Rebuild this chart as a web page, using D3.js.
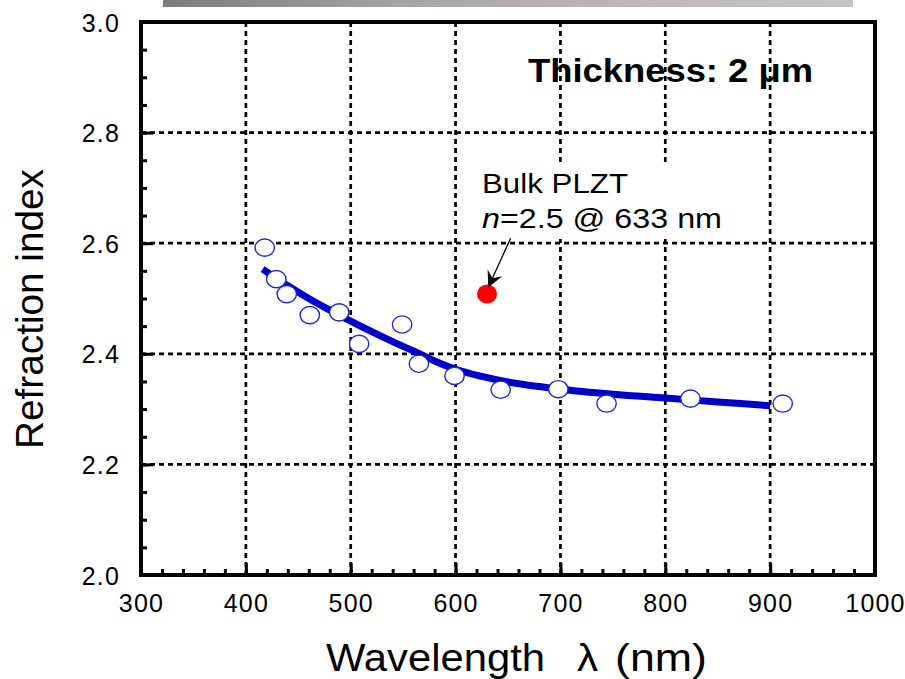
<!DOCTYPE html>
<html>
<head>
<meta charset="utf-8">
<script src="https://cdn.jsdelivr.net/npm/d3@7"></script>
<style>
  html, body { margin: 0; padding: 0; background: #fff; }
  svg { display: block; }
  text { font-family: "Liberation Sans", Arial, Helvetica, sans-serif; fill: #000; }
</style>
</head>
<body>
<svg id="chart" width="905" height="679"></svg>
<script>
// ---------- data ----------
const measWavelength = [418, 429, 439, 461, 489, 508, 549, 565, 599, 643, 698, 744, 824, 912];
const measIndex      = [2.592, 2.535, 2.508, 2.470, 2.475, 2.418, 2.453, 2.382, 2.360, 2.335, 2.336, 2.310, 2.319, 2.310];

const fitWavelength = [416, 440, 460, 480, 500, 520, 540, 560, 580, 600, 625, 650, 700, 750, 800, 850, 900];
const fitIndex      = [2.553, 2.523, 2.500, 2.479, 2.459, 2.440, 2.422, 2.405, 2.387, 2.372, 2.359, 2.349, 2.336, 2.327, 2.320, 2.313, 2.306];

const bulkWavelength = [630];
const bulkIndex      = [2.508];
const arrowFrom = [652.5, 2.609];
const arrowTo   = [631.2, 2.520];

const xTicks = [300, 400, 500, 600, 700, 800, 900, 1000];
const yTicks = [2.0, 2.2, 2.4, 2.6, 2.8, 3.0];
const xMinor = d3.range(300, 1001, 20);
const yMinor = d3.range(2.0, 3.001, 0.05);

// ---------- layout ----------
const svg = d3.select("#chart");
const L = 141, R = 875, T = 22, B = 575;
const x = d3.scaleLinear().domain([300, 1000]).range([L, R]);
const y = d3.scaleLinear().domain([2.0, 3.0]).range([B, T]);

// top gray bar
const defs = svg.append("defs");
const grad = defs.append("linearGradient").attr("id", "bar").attr("x1", 0).attr("x2", 1);
[[0, "#7c7c7c"], [0.35, "#a4a4a4"], [0.6, "#bdb2b3"], [1, "#c6c6c6"]].forEach(s =>
  grad.append("stop").attr("offset", s[0]).attr("stop-color", s[1]));
svg.append("rect").attr("x", 163).attr("y", 0).attr("width", 690).attr("height", 7).attr("fill", "url(#bar)");

// Thickness label (under grid)
svg.append("text").attr("x", 528).attr("y", 82)
  .attr("font-size", 34).attr("font-weight", "bold")
  .attr("textLength", 285).attr("lengthAdjust", "spacingAndGlyphs")
  .text("Thickness: 2 \u03bcm");

// grid
const grid = svg.append("g").attr("stroke", "#000").attr("stroke-width", 2.7).attr("stroke-dasharray", "5,4");
grid.selectAll("line.v").data(xTicks.slice(1, -1)).join("line")
  .attr("x1", d => x(d)).attr("x2", d => x(d)).attr("y1", T).attr("y2", B);
grid.selectAll("line.h").data(yTicks.slice(1, -1)).join("line")
  .attr("y1", d => y(d)).attr("y2", d => y(d)).attr("x1", L).attr("x2", R);

// annotation box (white background)
svg.append("rect").attr("x", 468).attr("y", 164).attr("width", 267).attr("height", 75).attr("fill", "#fff");
svg.append("text").attr("x", 482).attr("y", 193).attr("font-size", 27)
  .attr("textLength", 146).attr("lengthAdjust", "spacingAndGlyphs").text("Bulk PLZT");
const t2 = svg.append("text").attr("x", 482).attr("y", 228).attr("font-size", 27)
  .attr("textLength", 240).attr("lengthAdjust", "spacingAndGlyphs");
t2.append("tspan").attr("font-style", "italic").text("n");
t2.append("tspan").text("=2.5 @ 633 nm");

// axes ticks (inward)
const axB = svg.append("g").attr("transform", `translate(0,${B})`);
axB.call(d3.axisBottom(x).tickValues(xMinor).tickSize(-6).tickFormat(""));
axB.select(".domain").remove();
const axB2 = svg.append("g").attr("transform", `translate(0,${B})`);
axB2.call(d3.axisBottom(x).tickValues(xTicks).tickSize(-12).tickPadding(19).tickFormat(d3.format("d")));
axB2.select(".domain").remove();

const axL = svg.append("g").attr("transform", `translate(${L},0)`);
axL.call(d3.axisLeft(y).tickValues(yMinor).tickSize(-6).tickFormat(""));
axL.select(".domain").remove();
const axL2 = svg.append("g").attr("transform", `translate(${L},0)`);
axL2.call(d3.axisLeft(y).tickValues(yTicks).tickSize(-12).tickPadding(21).tickFormat(d3.format(".1f")));
axL2.select(".domain").remove();

svg.selectAll(".tick line").attr("stroke", "#000").attr("stroke-width", 3);
svg.selectAll(".tick text").attr("font-size", 25).attr("fill", "#000")
  .style("font-family", "'Liberation Sans', Arial, sans-serif").style("letter-spacing", "1.2px");
axL2.selectAll(".tick text").attr("dy", "0.36em");

// frame
svg.append("rect").attr("x", L).attr("y", T).attr("width", R - L).attr("height", B - T)
  .attr("fill", "none").attr("stroke", "#000").attr("stroke-width", 4);

// fit curve
const line = d3.line().x(d => x(d[0])).y(d => y(d[1])).curve(d3.curveMonotoneX);
svg.append("path").datum(fitWavelength.map((w, i) => [w, fitIndex[i]]))
  .attr("d", line).attr("fill", "none").attr("stroke", "#0000cc").attr("stroke-width", 7);

// measured points
svg.selectAll("ellipse.m").data(measWavelength.map((w, i) => [w, measIndex[i]])).join("ellipse")
  .attr("cx", d => x(d[0])).attr("cy", d => y(d[1])).attr("rx", 9.7).attr("ry", 8.6)
  .attr("fill", "#fff").attr("stroke", "#2323d8").attr("stroke-width", 1.4);

// bulk point
svg.selectAll("ellipse.b").data(bulkWavelength.map((w, i) => [w, bulkIndex[i]])).join("ellipse")
  .attr("cx", d => x(d[0])).attr("cy", d => y(d[1])).attr("rx", 10).attr("ry", 9.5)
  .attr("fill", "#ff0000");

// arrow
const x0 = x(arrowFrom[0]), y0 = y(arrowFrom[1]), x1 = x(arrowTo[0]), y1 = y(arrowTo[1]);
const dx = x1 - x0, dy = y1 - y0, len = Math.hypot(dx, dy), ux = dx / len, uy = dy / len;
const px = -uy, py = ux;
const hl = 16, hw = 8, notch = 10;
svg.append("line").attr("x1", x0).attr("y1", y0).attr("x2", x1 - ux * notch).attr("y2", y1 - uy * notch)
  .attr("stroke", "#000").attr("stroke-width", 1.3);
svg.append("path").attr("fill", "#000").attr("d",
  `M${x1},${y1} L${x1 - ux * hl + px * hw},${y1 - uy * hl + py * hw} L${x1 - ux * notch},${y1 - uy * notch} L${x1 - ux * hl - px * hw},${y1 - uy * hl - py * hw} Z`);

// axis titles
svg.append("text").attr("transform", "translate(43,309) rotate(-90)")
  .attr("text-anchor", "middle").attr("font-size", 38)
  .attr("textLength", 280).attr("lengthAdjust", "spacingAndGlyphs").text("Refraction index");
svg.append("text").attr("x", 326).attr("y", 671).attr("font-size", 38)
  .attr("textLength", 219).attr("lengthAdjust", "spacingAndGlyphs").text("Wavelength");
svg.append("text").attr("x", 577).attr("y", 671).attr("font-size", 38)
  .attr("textLength", 21).attr("lengthAdjust", "spacingAndGlyphs").text("\u03bb");
svg.append("text").attr("x", 615).attr("y", 671).attr("font-size", 38)
  .attr("textLength", 92).attr("lengthAdjust", "spacingAndGlyphs").text("(nm)");
</script>
</body>
</html>
